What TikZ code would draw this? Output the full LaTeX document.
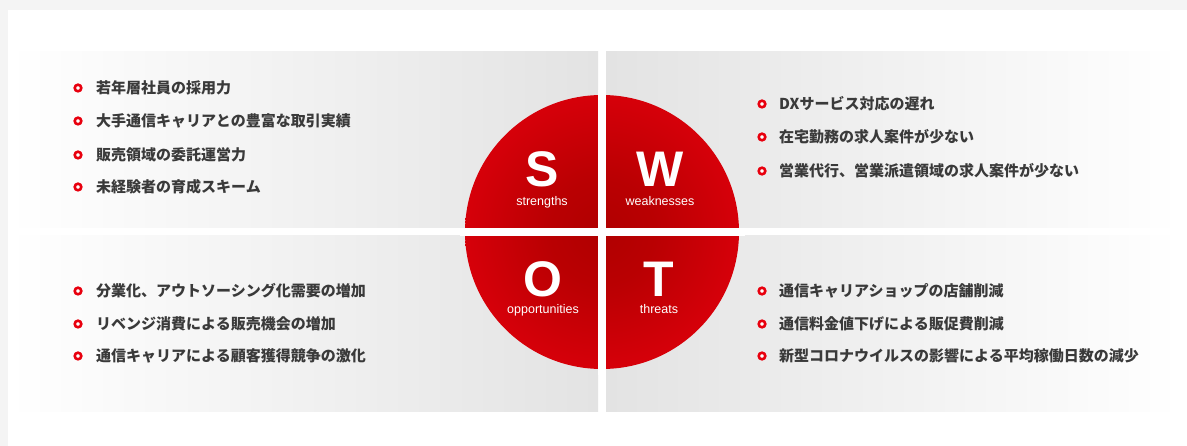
\documentclass[tikz,border=0pt]{standalone}
\usepackage{fontspec}
\setmainfont{Liberation Sans}
\newfontfamily\jp{Noto Sans CJK JP}
\usetikzlibrary{positioning}
\definecolor{swred}{HTML}{E8000E}
\definecolor{swmid}{HTML}{D8000A}
\definecolor{swdark}{HTML}{B00000}
\definecolor{txt}{HTML}{3A3A3A}
\definecolor{pgray}{HTML}{E3E3E3}
\definecolor{shadowgray}{HTML}{F4F4F4}
\pgfdeclareradialshading{swotred}{\pgfpoint{0bp}{0bp}}{color(0bp)=(swdark); color(10bp)=(swdark!75!swmid); color(26bp)=(swmid); color(50bp)=(swred)}
\tikzset{
  bullet/.style={circle, draw=swred, line width=2.6pt, fill=white, minimum size=6.6pt, inner sep=0pt},
  item/.style={anchor=west, inner sep=0pt, font=\jp\bfseries\fontsize{15}{15}\selectfont, text=txt},
  letter/.style={anchor=base, text=white, inner sep=0pt, font=\bfseries\fontsize{50}{50}\selectfont},
  sub/.style={anchor=base, text=white, inner sep=0pt, font=\fontsize{12.5}{13}\selectfont},
}
\begin{document}
\begin{tikzpicture}[x=1pt,y=-1pt]
\useasboundingbox (0,0) rectangle (1187,446);
% shadow and card
\fill[shadowgray] (0,0) rectangle (1187,446);
\fill[white] (8,10) rectangle (1187,446);
% panels
\shade[left color=white, right color=pgray] (8,52) rectangle (598,228);
\shade[left color=white, right color=pgray] (8,236) rectangle (598,412);
\shade[left color=pgray, right color=white] (606,52) rectangle (1180,228);
\shade[left color=pgray, right color=white] (606,236) rectangle (1180,412);
% circle
\node[circle, minimum size=274pt, inner sep=0pt, shading=swotred] (c) at (602,232) {};
\fill[white] (598,90) rectangle (606,375);
\fill[white] (460,228) rectangle (745,236);
% letters
\node[letter] (S) at (542,186.5) {S};
\node[sub] (s) at (542,205.5) {strengths};
\node[letter] (W) at (660,186.5) {W};
\node[sub] (w) at (660,205.5) {weaknesses};
\node[letter] (O) at (543,296.5) {O};
\node[sub] (o) at (543,314) {opportunities};
\node[letter] (T) at (659,296.5) {T};
\node[sub] (t) at (659,314) {threats};
% strengths items
\node[bullet] (b1) at (78,88) {};
\node[item] (t1) at (96,88) {若年層社員の採用力};
\node[bullet] (b2) at (78,121) {};
\node[item] (t2) at (96,121) {大手通信キャリアとの豊富な取引実績};
\node[bullet] (b3) at (78,155) {};
\node[item] (t3) at (96,155) {販売領域の委託運営力};
\node[bullet] (b4) at (78,187) {};
\node[item] (t4) at (96,187) {未経験者の育成スキーム};
% weaknesses items
\node[bullet] (b5) at (762,104) {};
\node[item] (t5) at (779,104) {DXサービス対応の遅れ};
\node[bullet] (b6) at (762,137) {};
\node[item] (t6) at (779,137) {在宅勤務の求人案件が少ない};
\node[bullet] (b7) at (762,171) {};
\node[item] (t7) at (779,171) {営業代行、営業派遣領域の求人案件が少ない};
% opportunities items
\node[bullet] (b8) at (78,291) {};
\node[item] (t8) at (96,291) {分業化、アウトソーシング化需要の増加};
\node[bullet] (b9) at (78,324) {};
\node[item] (t9) at (96,324) {リベンジ消費による販売機会の増加};
\node[bullet] (b10) at (78,356) {};
\node[item] (t10) at (96,356) {通信キャリアによる顧客獲得競争の激化};
% threats items
\node[bullet] (b11) at (762,291) {};
\node[item] (t11) at (779,291) {通信キャリアショップの店舗削減};
\node[bullet] (b12) at (762,324) {};
\node[item] (t12) at (779,324) {通信料金値下げによる販促費削減};
\node[bullet] (b13) at (762,356) {};
\node[item] (t13) at (779,356) {新型コロナウイルスの影響による平均稼働日数の減少};
\end{tikzpicture}
\end{document}
